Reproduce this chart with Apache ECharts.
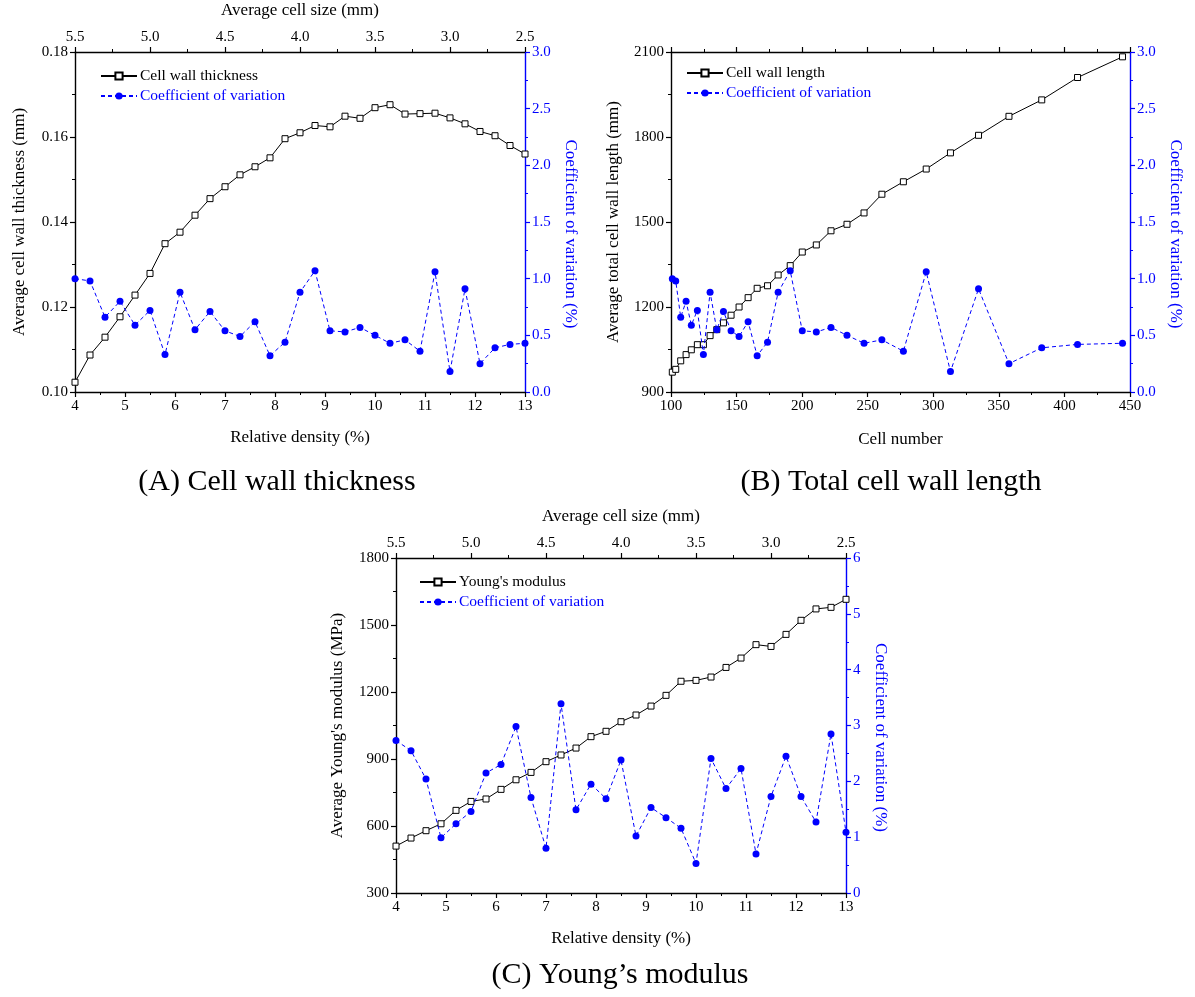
<!DOCTYPE html>
<html>
<head>
<meta charset="utf-8">
<script src="https://cdn.jsdelivr.net/npm/echarts@6/dist/echarts.min.js"></script>
<style>
html,body{margin:0;padding:0;background:#fff;}
#chart{width:1195px;height:997px;}
</style>
</head>
<body>
<div id="chart"></div>
<script>
// ---- data ----
const relDensity = [4.0,4.3,4.6,4.9,5.2,5.5,5.8,6.1,6.4,6.7,7.0,7.3,7.6,7.9,8.2,8.5,8.8,9.1,9.4,9.7,10.0,10.3,10.6,10.9,11.2,11.5,11.8,12.1,12.4,12.7,13.0];
const cellNumber = [101,103.6,107.4,111.5,115.5,120.1,124.7,129.8,134.9,140,145.8,151.9,158.8,165.7,173.6,181.7,190.9,200.1,210.8,222,234.2,247.2,260.8,277.2,294.6,313.1,334.5,357.7,382.7,410,444.3];
const wallThickness = [0.1023,0.1087,0.1129,0.1177,0.1228,0.1279,0.1349,0.1376,0.1416,0.1455,0.1483,0.1511,0.1530,0.1551,0.1596,0.1610,0.1627,0.1624,0.1649,0.1644,0.1669,0.1676,0.1654,0.1655,0.1656,0.1645,0.1631,0.1613,0.1603,0.1580,0.1560];
const cvGeometry = [1.00,0.98,0.66,0.80,0.59,0.72,0.33,0.88,0.55,0.71,0.54,0.49,0.62,0.32,0.44,0.88,1.07,0.54,0.53,0.57,0.50,0.43,0.46,0.36,1.06,0.18,0.91,0.25,0.39,0.42,0.43];
const wallLength = [970,980,1010,1032,1049,1067,1067,1099,1120,1144,1171,1200,1233,1266,1275,1313,1346,1394,1419,1469,1492,1532,1598,1642,1687,1744,1806,1873,1931,2010,2083];
const youngModulus = [510,546,579,610,670,710,721,764,807,840,888,918,949,1000,1024,1067,1097,1137,1185,1248,1252,1267,1310,1352,1412,1404,1458,1521,1572,1579,1615];
const cvModulus = [2.73,2.55,2.04,0.99,1.24,1.46,2.15,2.30,2.98,1.71,0.80,3.39,1.49,1.95,1.69,2.38,1.02,1.53,1.35,1.16,0.53,2.41,1.87,2.23,0.70,1.73,2.45,1.73,1.27,2.85,1.09];
const cellSizeTicks = {min: 2.5, max: 5.5, interval: 0.5};

const FONT = "'Liberation Serif','Times New Roman',serif";
const BLUE = '#0000ff';
const pair = (xs, ys) => xs.map((x, i) => [x, ys[i]]);

function axisBase(color) {
  return {
    axisLine: {show: true, onZero: false, lineStyle: {color: color, width: 1.4}},
    axisTick: {show: true, inside: false, length: 5, lineStyle: {color: color, width: 1.2}},
    minorTick: {show: true, splitNumber: 2, length: 3, lineStyle: {color: color, width: 1}},
    splitLine: {show: false},
    minorSplitLine: {show: false},
    axisLabel: {color: color, fontFamily: FONT, fontSize: 15, margin: 7, formatter: v => String(v)},
    nameTextStyle: {color: color, fontFamily: FONT, fontSize: 17},
    nameLocation: 'middle'
  };
}
function lbl(color, fmt) { return {color: color, fontFamily: FONT, fontSize: 15, margin: 7, formatter: fmt}; }
const rightName = {color: BLUE, fontFamily: FONT, fontSize: 17, padding: [0, 0, 0, 24]};
function xAx(grid, pos, opts) { return Object.assign(axisBase('#000'), {type: 'value', gridIndex: grid, position: pos}, opts); }
function yAx(grid, pos, color, opts) { return Object.assign(axisBase(color), {type: 'value', gridIndex: grid, position: pos}, opts); }

const blackLine = (name, xi, yi, data) => ({
  name, type: 'line', xAxisIndex: xi, yAxisIndex: yi, data,
  symbol: 'rect', symbolSize: 6, showSymbol: true,
  lineStyle: {color: '#000', width: 1},
  itemStyle: {color: '#fff', borderColor: '#000', borderWidth: 1},
  animation: false, z: 2
});
const blueLine = (name, xi, yi, data) => ({
  name, type: 'line', xAxisIndex: xi, yAxisIndex: yi, data,
  symbol: 'circle', symbolSize: 7, showSymbol: true,
  lineStyle: {color: BLUE, width: 1, type: [4, 3]},
  itemStyle: {color: BLUE, borderWidth: 0},
  animation: false, z: 3
});
const legend = (left, top, first) => ({
  left, top, orient: 'vertical', itemWidth: 36, itemHeight: 9, itemGap: 4,
  textStyle: {fontFamily: FONT, fontSize: 15.5, padding: [0,0,0,-2]},
  data: [{name: first, textStyle: {color: '#000'}}, {name: 'Coefficient of variation', textStyle: {color: BLUE}}],
  selectedMode: false
});
const titleText = (x, y, text) => ({
  type: 'text', x, y,
  style: {text, fill: '#000', font: '30px ' + FONT, textAlign: 'center', textVerticalAlign: 'middle'}
});

const option = {
  backgroundColor: '#fff',
  animation: false,
  grid: [
    {left: 75, top: 52, width: 450, height: 340},
    {left: 671, top: 52, width: 459, height: 340},
    {left: 396, top: 558, width: 450, height: 335}
  ],
  legend: [
    legend(95, 63, 'Cell wall thickness'),
    legend(681, 60, 'Cell wall length'),
    legend(414, 569, "Young's modulus")
  ],
  xAxis: [
    xAx(0, 'bottom', {min: 4, max: 13, interval: 1, name: 'Relative density (%)', nameGap: 37}),
    xAx(0, 'top', Object.assign({inverse: true, name: 'Average cell size (mm)', nameGap: 33,
      axisLabel: lbl('#000', v => v.toFixed(1))}, cellSizeTicks)),
    xAx(1, 'bottom', {min: 100, max: 450, interval: 50, name: 'Cell number', nameGap: 39}),
    xAx(1, 'top', {min: 100, max: 450, interval: 50, axisLabel: {show: false}}),
    xAx(2, 'bottom', {min: 4, max: 13, interval: 1, name: 'Relative density (%)', nameGap: 37}),
    xAx(2, 'top', Object.assign({inverse: true, name: 'Average cell size (mm)', nameGap: 33,
      axisLabel: lbl('#000', v => v.toFixed(1))}, cellSizeTicks))
  ],
  yAxis: [
    yAx(0, 'left', '#000', {min: 0.10, max: 0.18, interval: 0.02, name: 'Average cell wall thickness (mm)', nameGap: 47,
      axisLabel: lbl('#000', v => v.toFixed(2))}),
    yAx(0, 'right', BLUE, {min: 0, max: 3, interval: 0.5, name: 'Coefficient of variation (%)', nameGap: 37, nameRotate: -90,
      nameTextStyle: rightName, axisLabel: lbl(BLUE, v => v.toFixed(1))}),
    yAx(1, 'left', '#000', {min: 900, max: 2100, interval: 300, name: 'Average total cell wall length (mm)', nameGap: 49}),
    yAx(1, 'right', BLUE, {min: 0, max: 3, interval: 0.5, name: 'Coefficient of variation (%)', nameGap: 37, nameRotate: -90,
      nameTextStyle: rightName, axisLabel: lbl(BLUE, v => v.toFixed(1))}),
    yAx(2, 'left', '#000', {min: 300, max: 1800, interval: 300, name: "Average Young's modulus (MPa)", nameGap: 50}),
    yAx(2, 'right', BLUE, {min: 0, max: 6, interval: 1, name: 'Coefficient of variation (%)', nameGap: 26, nameRotate: -90,
      nameTextStyle: rightName})
  ],
  series: [
    blackLine('Cell wall thickness', 0, 0, pair(relDensity, wallThickness)),
    blueLine('Coefficient of variation', 0, 1, pair(relDensity, cvGeometry)),
    blackLine('Cell wall length', 2, 2, pair(cellNumber, wallLength)),
    blueLine('Coefficient of variation', 2, 3, pair(cellNumber, cvGeometry)),
    blackLine("Young's modulus", 4, 4, pair(relDensity, youngModulus)),
    blueLine('Coefficient of variation', 4, 5, pair(relDensity, cvModulus))
  ],
  graphic: [
    titleText(277, 482, '(A) Cell wall thickness'),
    titleText(891, 482, '(B) Total cell wall length'),
    titleText(620, 975, "(C) Young\u2019s modulus")
  ]
};
const chart = echarts.init(document.getElementById('chart'), null, {renderer: 'canvas'});
chart.setOption(option);
</script>
</body>
</html>
